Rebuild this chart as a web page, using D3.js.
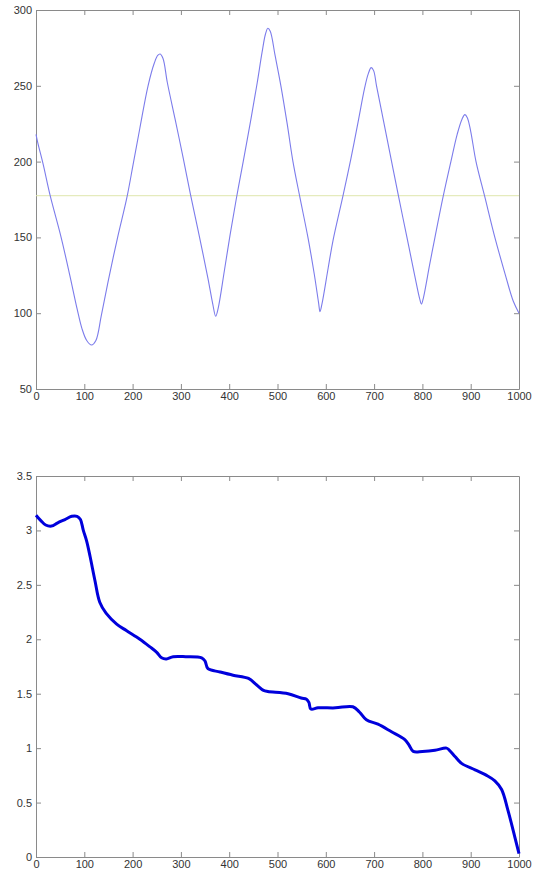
<!DOCTYPE html>
<html>
<head>
<meta charset="utf-8">
<script src="https://cdn.jsdelivr.net/npm/d3@7"></script>
<style>
  body { margin: 0; background: #fff; }
  svg { display: block; }
  .tick text { font-family: "Liberation Sans", Arial, sans-serif; font-size: 11px; fill: #333; }
</style>
</head>
<body>
<div id="chart"></div>
<script>
// top panel: oscillating signal + constant level
const topX = [0, 4, 15, 29, 52, 70, 85, 95, 105, 115, 124,
  135, 150, 169, 188, 201, 215, 232, 245, 252, 257, 263,
  272, 288, 305, 320, 338, 356, 366, 372, 377,
  390, 402, 415, 429, 445, 458, 468, 475, 480, 485,
  495, 507, 520, 532, 546, 563, 576, 585, 588, 592,
  605, 615, 636, 652, 668, 680, 688, 694, 699,
  705, 720, 735, 750, 768, 784, 794, 798, 802,
  815, 826, 843, 859, 872, 882, 888, 893,
  900, 911, 929, 950, 972, 988, 1000];
const topY = [218, 212, 198, 178, 150, 125, 103, 90, 82, 79, 82,
  98, 122, 150, 176, 198, 222, 250, 265, 270, 271, 268,
  252, 228, 202, 178, 151, 123, 106, 98, 103,
  128, 152, 176, 200, 228, 252, 272, 284, 288, 286,
  270, 250, 225, 200, 177, 150, 126, 107, 101, 106,
  130, 148, 178, 202, 228, 248, 258, 262, 260,
  250, 226, 202, 178, 150, 125, 110, 106, 110,
  132, 150, 177, 200, 218, 228, 231, 229,
  220, 200, 177, 150, 125, 108, 100];
const levelValue = 177.5;

// bottom panel: decreasing curve
const botX = [0, 10, 20, 32, 45, 60, 74, 85, 92, 98, 105, 112, 122, 132, 145, 167, 187, 215, 236, 250, 260, 270, 284, 310, 343,
  350, 356, 381, 408, 440, 457, 471, 480, 522, 549, 560, 565, 569, 584, 620, 656, 670, 684, 708, 736, 763, 772, 781, 800,
  826, 850, 856, 868, 881, 909, 933, 950, 964, 977, 991, 1000];
const botY = [3.14, 3.09, 3.05, 3.04, 3.07, 3.10, 3.13, 3.13, 3.10, 3.00, 2.90, 2.76, 2.54, 2.34, 2.24, 2.14, 2.08, 2.00, 1.93, 1.88, 1.83, 1.82, 1.84, 1.84, 1.83,
  1.80, 1.73, 1.70, 1.67, 1.64, 1.58, 1.53, 1.52, 1.50, 1.46, 1.45, 1.42, 1.36, 1.37, 1.37, 1.38, 1.33, 1.26, 1.22, 1.15, 1.08, 1.03, 0.97, 0.97,
  0.98, 1.00, 0.98, 0.92, 0.86, 0.80, 0.75, 0.70, 0.62, 0.43, 0.19, 0.03];

const xTicks = [0, 100, 200, 300, 400, 500, 600, 700, 800, 900, 1000];
const topYTicks = [50, 100, 150, 200, 250, 300];
const botYTicks = [0, 0.5, 1, 1.5, 2, 2.5, 3, 3.5];

const width = 538, height = 872;
const svg = d3.select("#chart").append("svg")
    .attr("width", width)
    .attr("height", height);

function drawPanel(top, bottom, yDomain, yTicks, yFormat, series) {
    const x = d3.scaleLinear().domain([0, 1000]).range([36, 519]);
    const y = d3.scaleLinear().domain(yDomain).range([bottom, top]);
    const g = svg.append("g");
    const tick = 5;

    // box axes with ticks pointing inward on every side
    const axes = [
        { axis: d3.axisBottom(x).tickValues(xTicks).tickFormat(d3.format("d")), t: `translate(0,${bottom})`, pad: 3 },
        { axis: d3.axisTop(x).tickValues(xTicks.slice(1, -1)).tickFormat(""), t: `translate(0,${top})`, pad: 3 },
        { axis: d3.axisLeft(y).tickValues(yTicks).tickFormat(yFormat), t: `translate(36,0)`, pad: 4 },
        { axis: d3.axisRight(y).tickValues(yTicks.slice(1, -1)).tickFormat(""), t: `translate(519,0)`, pad: 3 }
    ];
    axes.forEach(a => {
        const ag = g.append("g")
            .attr("transform", a.t)
            .call(a.axis.tickSizeInner(-tick).tickSizeOuter(0).tickPadding(a.pad));
        ag.select(".domain").attr("stroke", "#8a8a8a");
        ag.selectAll(".tick line").attr("stroke", "#8a8a8a");
    });

    series.forEach(s => {
        g.append("path")
            .datum(s.xs.map((d, i) => [d, s.ys[i]]))
            .attr("fill", "none")
            .attr("stroke", s.color)
            .attr("stroke-width", s.width)
            .attr("stroke-linejoin", "round")
            .attr("d", d3.line().x(d => x(d[0])).y(d => y(d[1])).curve(d3.curveCatmullRom));
    });
}

drawPanel(10, 389, [50, 300], topYTicks, d3.format("d"), [
    { xs: [0, 1000], ys: [levelValue, levelValue], color: "#dfe6ad", width: 1 },
    { xs: topX, ys: topY, color: "#7c7ceb", width: 1.1 }
]);

drawPanel(476, 857, [0, 3.5], botYTicks, d => d, [
    { xs: botX, ys: botY, color: "#0000dc", width: 3 }
]);
</script>
</body>
</html>
